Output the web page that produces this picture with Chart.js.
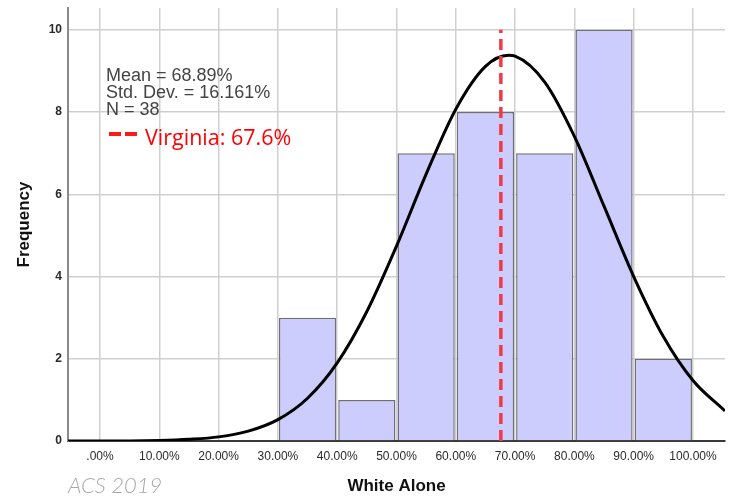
<!DOCTYPE html>
<html>
<head>
<meta charset="utf-8">
<script src="https://cdn.jsdelivr.net/npm/chart.js@4.4.1/dist/chart.umd.min.js"></script>
<style>
  html, body { margin: 0; padding: 0; background: #ffffff; }
  #wrap { position: relative; width: 734px; height: 497px; }
  canvas { display: block; }
</style>
</head>
<body>
<div id="wrap"><canvas id="c" width="734" height="497"></canvas></div>
<script>
// ---- Data ----
const binCenters   = [35, 45, 55, 65, 75, 85, 95];
const frequencies  = [3, 1, 7, 8, 7, 10, 2];

const curveX = [-5.4, 0, 5, 10, 15, 20, 25, 30, 35, 40, 45, 50, 55, 60, 65, 68.9, 70, 75, 80, 85, 90, 95, 100, 105.4];
const curveY = [0.00, 0.00, 0.00, 0.01, 0.04, 0.10, 0.24, 0.52, 1.04, 1.90, 3.15, 4.74, 6.49, 8.07, 9.11, 9.38, 9.36, 8.73, 7.41, 5.71, 4.00, 2.54, 1.47, 0.73];

const xTickValues = [0, 10, 20, 30, 40, 50, 60, 70, 80, 90, 100];
const xTickLabels = ['.00%', '10.00%', '20.00%', '30.00%', '40.00%', '50.00%', '60.00%', '70.00%', '80.00%', '90.00%', '100.00%'];
const yTickValues = [0, 2, 4, 6, 8, 10];

const virginiaValue = 67.6;
const virginiaLineY = [0, 10];
const virginiaLabel = 'Virginia: 67.6%';
const statsLines = ['Mean = 68.89%', 'Std. Dev. = 16.161%', 'N = 38'];
const sourceLabel = 'ACS 2019';
const xTitle = 'White Alone';
const yTitle = 'Frequency';

// ---- Chart ----
const barData = binCenters.map((x, i) => ({ x: x, y: frequencies[i] }));
const curveData = curveX.map((x, i) => ({ x: x, y: curveY[i] }));
const vaData = virginiaLineY.map(y => ({ x: virginiaValue, y: y }));

const annotationPlugin = {
  id: 'annotations',
  afterDatasetsDraw(chart) {
    const ctx = chart.ctx;
    ctx.save();
    ctx.textAlign = 'left';
    ctx.textBaseline = 'alphabetic';
    ctx.fillStyle = '#444444';
    ctx.font = '18px "Liberation Sans", Arial, sans-serif';
    statsLines.forEach((t, i) => ctx.fillText(t, 106, 81 + i * 17));
    // legend dashes
    ctx.fillStyle = '#ff1a1a';
    ctx.fillRect(109, 132, 12, 4);
    ctx.fillRect(125, 132, 12, 4);
    ctx.fillStyle = '#ff0000';
    ctx.font = '21.5px "Open Sans", "Noto Sans", sans-serif';
    ctx.fillText(virginiaLabel, 145, 145);
    // source
    ctx.fillStyle = '#a8a8a8';
    ctx.font = 'italic 300 22px Lato, "Open Sans", sans-serif';
    ctx.fillText(sourceLabel, 68, 493);
    ctx.restore();
  }
};

new Chart(document.getElementById('c'), {
  type: 'bar',
  data: {
    datasets: [
      {
        type: 'line',
        label: 'Virginia',
        data: vaData,
        borderColor: '#f03a46',
        borderWidth: 3.5,
        borderDash: [11, 6],
        pointRadius: 0,
        order: 0
      },
      {
        type: 'line',
        label: 'Normal',
        data: curveData,
        borderColor: '#000000',
        borderWidth: 3,
        pointRadius: 0,
        cubicInterpolationMode: 'monotone',
        order: 1
      },
      {
        type: 'bar',
        label: 'Frequency',
        data: barData,
        backgroundColor: '#ccccfd',
        borderColor: '#6e6e7a',
        borderWidth: 1.5,
        borderSkipped: 'bottom',
        barPercentage: 0.965,
        categoryPercentage: 1.0,
        order: 2
      }
    ]
  },
  options: {
    responsive: false,
    devicePixelRatio: 1,
    animation: false,
    layout: { padding: { top: 8, right: 9, left: 0, bottom: 0 } },
    plugins: {
      legend: { display: false },
      tooltip: { enabled: false }
    },
    scales: {
      x: {
        type: 'linear',
        min: -5.4,
        max: 105.4,
        offset: false,
        afterBuildTicks(scale) { scale.ticks = xTickValues.map(v => ({ value: v })); },
        afterFit(scale) { scale.height = 56; },
        ticks: {
          autoSkip: false,
          maxRotation: 0,
          padding: 8,
          color: '#2a2a2a',
          font: { family: '"Liberation Sans", Arial, sans-serif', size: 12 },
          callback: (v, i) => xTickLabels[i]
        },
        grid: { offset: false, color: '#cfcfcf', lineWidth: 1.5, drawTicks: false },
        border: { color: '#3a3a3a', width: 2 },
        title: {
          display: true,
          text: xTitle,
          color: '#111111',
          font: { family: '"Liberation Sans", Arial, sans-serif', size: 17, weight: 'bold' },
          padding: { top: 0, bottom: 0 }
        }
      },
      y: {
        type: 'linear',
        min: 0,
        max: 10.53,
        afterBuildTicks(scale) { scale.ticks = yTickValues.map(v => ({ value: v })); },
        afterFit(scale) { scale.width = 68; scale.paddingTop = 0; scale.paddingBottom = 0; },
        ticks: {
          padding: 6,
          color: '#2a2a2a',
          font: { family: '"Liberation Sans", Arial, sans-serif', size: 12, weight: 'bold' }
        },
        grid: { color: '#cfcfcf', lineWidth: 1.5, drawTicks: false },
        border: { color: '#8a8a8a', width: 2 },
        title: {
          display: true,
          text: yTitle,
          color: '#111111',
          font: { family: '"Liberation Sans", Arial, sans-serif', size: 17, weight: 'bold' },
          padding: { top: 14, bottom: 0 }
        }
      }
    }
  },
  plugins: [annotationPlugin]
});
</script>
</body>
</html>
